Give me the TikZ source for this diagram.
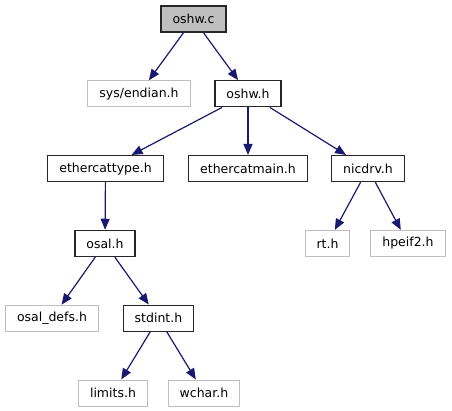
\documentclass[tikz,border=0pt]{standalone}
\usepackage{fontspec}
\setmainfont{DejaVu Sans}
\usepackage{xcolor}
\usetikzlibrary{arrows.meta}
\definecolor{edgeblue}{HTML}{191970}
\definecolor{grey75}{HTML}{BFBFBF}

\begin{document}
\begin{tikzpicture}[
    x=1pt, y=-1pt,
    file/.style={rectangle, draw=#1, line width=1.3pt, minimum height=26pt, inner xsep=11.5pt, inner ysep=0pt, font=\fontsize{12.5}{15}\selectfont},
    file/.default=black!85,
    ext/.style={file=grey75, line width=1pt},
    dep/.style={draw=edgeblue, line width=1.2pt, -{Triangle[length=11pt, width=9pt]}}
]
\useasboundingbox (0,0) rectangle (452,411);
% top
\node[file, fill=grey75] (oshwc) at (193.5,19) {oshw.c};
\node[ext] (sysendian) at (139,93.8) {sys/endian.h};
\node[file] (oshwh) at (248,93.8) {oshw.h};
% headers of oshw.h
\node[file] (ethercattype) at (105.5,168.6) {ethercattype.h};
\node[file] (ethercatmain) at (248,168.6) {ethercatmain.h};
\node[file] (nicdrv) at (368,168.6) {nicdrv.h};
\node[file] (osal) at (105,243.4) {osal.h};
\node[ext] (rt) at (327.5,243.4) {rt.h};
\node[ext] (hpeif2) at (408,243.4) {hpeif2.h};
\node[ext] (osaldefs) at (52,318.2) {osal\_defs.h};
\node[file] (stdint) at (158.5,318.2) {stdint.h};
\node[ext] (limits) at (113,393) {limits.h};
\node[ext] (wchar) at (204,393) {wchar.h};
% includes
\draw[dep] (oshwc) -- (sysendian);
\draw[dep] (oshwc) -- (oshwh);
\draw[dep] (oshwh) -- (ethercattype);
\draw[dep] (oshwh) -- (ethercatmain);
\draw[dep] (oshwh) -- (nicdrv);
\draw[dep] (ethercattype) -- (osal);
\draw[dep] (nicdrv) -- (rt);
\draw[dep] (nicdrv) -- (hpeif2);
\draw[dep] (osal) -- (osaldefs);
\draw[dep] (osal) -- (stdint);
\draw[dep] (stdint) -- (limits);
\draw[dep] (stdint) -- (wchar);
\end{tikzpicture}
\end{document}
